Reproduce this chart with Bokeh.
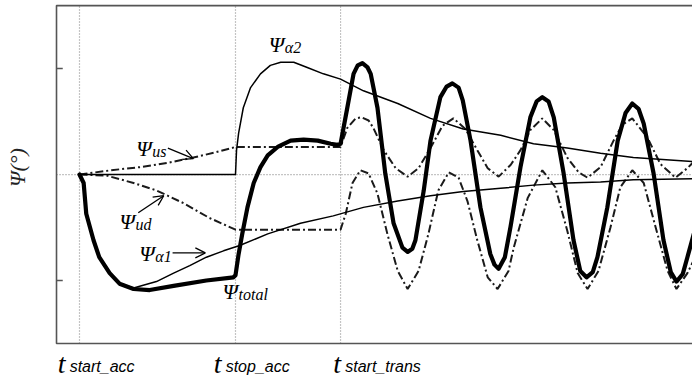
import math
from bokeh.plotting import figure
from bokeh.models import Range1d, Label, Arrow, OpenHead
from bokeh.embed import file_html
from bokeh.resources import INLINE

# ---------------- data (time in arbitrary units, angle in arbitrary units) ----------------
event_times = [0.0, 3.0, 5.02]
event_subs = ["start_acc", "stop_acc", "start_trans"]
event_label_x = [-0.42, 2.58, 4.88]
y_ticks = [-1, 1]

t_total = [0, 0.08, 0.13, 0.27, 0.38, 0.58, 0.77, 1.04, 1.35, 1.81,
           2.44, 2.96, 3.0, 3.06, 3.13, 3.23, 3.35, 3.48, 3.62, 3.81,
           4.06, 4.31, 4.58, 4.83, 4.96, 5.02, 5.15, 5.27, 5.35, 5.44,
           5.54, 5.60, 5.73, 5.88, 6.04, 6.21, 6.31, 6.40, 6.46, 6.62,
           6.75, 6.94, 7.06, 7.17, 7.29, 7.37, 7.52, 7.71, 7.90, 7.98, 8.06,
           8.18, 8.29, 8.48, 8.67, 8.79, 8.90, 9.02, 9.12, 9.31, 9.50, 9.63,
           9.75, 9.87, 9.96, 10.15, 10.35, 10.50, 10.63, 10.75, 10.85, 11.04,
           11.23, 11.37, 11.48, 11.60, 11.69, 11.83]
psi_total = [0, -0.08, -0.37, -0.62, -0.78, -0.93, -1.03, -1.08, -1.09, -1.05,
             -1.00, -0.97, -0.95, -0.75, -0.56, -0.31, -0.08, 0.07, 0.18, 0.26,
             0.32, 0.33, 0.32, 0.29, 0.28, 0.29, 0.63, 0.95, 1.03, 1.05,
             1.01, 0.95, 0.63, 0.01, -0.46, -0.69, -0.73, -0.70, -0.62, -0.15,
             0.32, 0.73, 0.83, 0.86, 0.82, 0.70, 0.32, -0.31, -0.75, -0.85, -0.89,
             -0.78, -0.49, 0.07, 0.54, 0.69, 0.73, 0.69, 0.54, 0.01, -0.62, -0.91,
             -0.97, -0.92, -0.78, -0.31, 0.32, 0.58, 0.67, 0.62, 0.48, 0.01,
             -0.62, -0.92, -1.01, -0.94, -0.78, -0.53]

t_a2 = [0, 3.0, 3.02, 3.06, 3.15, 3.29, 3.48, 3.67, 3.87, 4.12, 4.38, 4.69,
        5.02, 5.46, 6.12, 6.75, 7.38, 8.10, 8.73, 9.38, 10.02, 10.65, 11.83]
psi_a2 = [0, 0, 0.23, 0.39, 0.63, 0.82, 0.95, 1.03, 1.06, 1.06, 1.01, 0.95,
          0.90, 0.79, 0.67, 0.53, 0.43, 0.37, 0.29, 0.25, 0.20, 0.16, 0.12]

t_a1 = [0, 0.08, 0.13, 0.27, 0.38, 0.58, 0.77, 1.04, 1.48, 1.81, 2.12, 2.44,
        2.77, 3.08, 3.62, 4.25, 4.88, 5.46, 6.12, 6.75, 7.38, 8.10, 8.73,
        9.38, 10.02, 10.65, 11.83]
psi_a1 = [0, -0.08, -0.37, -0.62, -0.78, -0.93, -1.03, -1.07, -1.01, -0.93,
          -0.86, -0.78, -0.72, -0.67, -0.56, -0.46, -0.39, -0.31, -0.25, -0.20,
          -0.16, -0.13, -0.10, -0.08, -0.07, -0.05, -0.04]

t_us = [0, 0.60, 1.17, 1.69, 2.19, 2.62, 3.0, 5.02, 5.15, 5.31,
        5.42, 5.56, 5.65, 5.85, 6.08, 6.31, 6.52, 6.75, 6.98, 7.19,
        7.42, 7.65, 7.85, 8.06, 8.29, 8.48, 8.67, 8.90, 9.12, 9.38,
        9.60, 9.77, 10.02, 10.27, 10.44, 10.63, 10.92, 11.17, 11.46, 11.69, 11.83]
psi_us = [0, 0.04, 0.07, 0.11, 0.16, 0.21, 0.26, 0.26, 0.44, 0.53,
          0.54, 0.51, 0.44, 0.23, 0.06, -0.02, 0.06, 0.25, 0.46, 0.53,
          0.43, 0.23, 0.06, -0.02, 0.09, 0.23, 0.42, 0.53, 0.42, 0.16,
          0.02, -0.03, 0.07, 0.32, 0.47, 0.53, 0.35, 0.10, -0.03, 0.06, 0.13]

t_ud = [0, 0.52, 1.04, 1.48, 2.0, 2.5, 3.0, 5.02, 5.12, 5.25,
        5.40, 5.56, 5.73, 5.92, 6.12, 6.31, 6.52, 6.71, 6.90, 7.10,
        7.29, 7.46, 7.65, 7.85, 8.04, 8.25, 8.35, 8.62, 8.90, 9.15,
        9.38, 9.58, 9.77, 9.98, 10.21, 10.40, 10.63, 10.85, 11.08, 11.31,
        11.48, 11.69, 11.83]
psi_ud = [0, -0.01, -0.08, -0.15, -0.27, -0.41, -0.52, -0.52, -0.37, -0.08,
          0.04, 0.01, -0.18, -0.56, -0.91, -1.08, -0.91, -0.56, -0.15, 0.02,
          -0.03, -0.25, -0.62, -0.97, -1.08, -0.91, -0.69, -0.22, 0.04, -0.12,
          -0.53, -0.93, -1.08, -0.91, -0.50, -0.12, 0.04, -0.08, -0.50, -0.91,
          -1.08, -0.93, -0.79]

# curve name labels (Ψ + subscript)
psi_subs = ["α2", "us", "ud", "α1", "total"]
psi_label_x = [3.64, 1.09, 0.77, 1.15, 2.75]
psi_label_y = [1.23, 0.245, -0.44, -0.745, -1.10]

# pointer arrows: (x_start, y_start, x_end, y_end)
arrows = [(1.70, 0.25, 2.19, 0.15),
          (1.13, -0.36, 1.62, -0.20),
          (1.79, -0.74, 2.42, -0.74)]

# ---------------- figure ----------------
W, H = 692, 379
X0, X1 = -1.519, 11.788          # whole canvas in data units
Y0, Y1 = -1.934, 1.642
BOX_L, BOX_T, BOX_B = -0.442, 1.594, -1.594   # drawn plot box (right side open)
BOX_R = X1 + 0.2

p = figure(width=W, height=H, x_range=Range1d(X0, X1), y_range=Range1d(Y0, Y1),
           output_backend="svg", toolbar_location=None,
           x_axis_type=None, y_axis_type=None, min_border=0)
p.outline_line_color = None
p.grid.visible = False
p.background_fill_color = "white"
p.border_fill_color = "white"

frame_col = "#555555"
grid_col = "#8a8a8a"

# dotted reference lines (event times and zero level)
p.segment(x0=event_times, y0=[BOX_B] * len(event_times),
          x1=event_times, y1=[BOX_T] * len(event_times),
          line_color=grid_col, line_width=1.2, line_dash="1 2")
p.segment(x0=[BOX_L], y0=[0], x1=[BOX_R], y1=[0],
          line_color=grid_col, line_width=1.2, line_dash="1 2")

# plot box and inward ticks
p.line([BOX_R, BOX_L, BOX_L, BOX_R], [BOX_T, BOX_T, BOX_B, BOX_B],
       line_color=frame_col, line_width=1.6)
p.segment(x0=[BOX_L] * len(y_ticks), y0=y_ticks,
          x1=[BOX_L + 0.12] * len(y_ticks), y1=y_ticks,
          line_color=frame_col, line_width=1.5)

# curves
dd = "8 3 2 3"
p.line(t_us, psi_us, line_color="#1a1a1a", line_width=2, line_dash=dd)
p.line(t_ud, psi_ud, line_color="#1a1a1a", line_width=2, line_dash=dd)
p.line(t_a2, psi_a2, line_color="black", line_width=1.5, line_join="round")
p.line(t_a1, psi_a1, line_color="black", line_width=1.5, line_join="round")
p.line(t_total, psi_total, line_color="black", line_width=4.2,
       line_join="round", line_cap="round")

# curve labels
for sub, lx, ly in zip(psi_subs, psi_label_x, psi_label_y):
    p.add_layout(Label(x=lx, y=ly, text="Ψ", text_font="Liberation Serif",
                       text_font_style="italic", text_font_size="22px",
                       text_color="black", text_baseline="alphabetic", text_align="left"))
    p.add_layout(Label(x=lx, y=ly, x_offset=16, y_offset=-3, text=sub,
                       text_font="Liberation Serif", text_font_style="italic",
                       text_font_size="16px", text_color="black",
                       text_baseline="alphabetic", text_align="left"))

for (xs, ys, xe, ye) in arrows:
    p.add_layout(Arrow(x_start=xs, y_start=ys, x_end=xe, y_end=ye,
                       line_color="black", line_width=1.3,
                       end=OpenHead(size=10, line_color="black", line_width=1.3)))

# event labels under the box
for lx, sub in zip(event_label_x, event_subs):
    p.add_layout(Label(x=lx, y=-1.877, y_offset=10, text="t", text_font="Liberation Serif",
                       text_font_style="italic", text_font_size="28px",
                       text_color="black", text_baseline="alphabetic", text_align="left"))
    p.add_layout(Label(x=lx, y=-1.877, x_offset=12, y_offset=7, text=sub,
                       text_font="Liberation Sans", text_font_style="italic",
                       text_font_size="16px", text_color="black",
                       text_baseline="alphabetic", text_align="left"))

# y axis title
p.add_layout(Label(x=-1.19, y=0.066, text="Ψ(°)", angle=math.pi / 2,
                   text_font="Liberation Serif", text_font_style="italic",
                   text_font_size="22px", text_color="#222222",
                   text_align="center", text_baseline="middle"))

open("out.html", "w").write(file_html(p, INLINE))
